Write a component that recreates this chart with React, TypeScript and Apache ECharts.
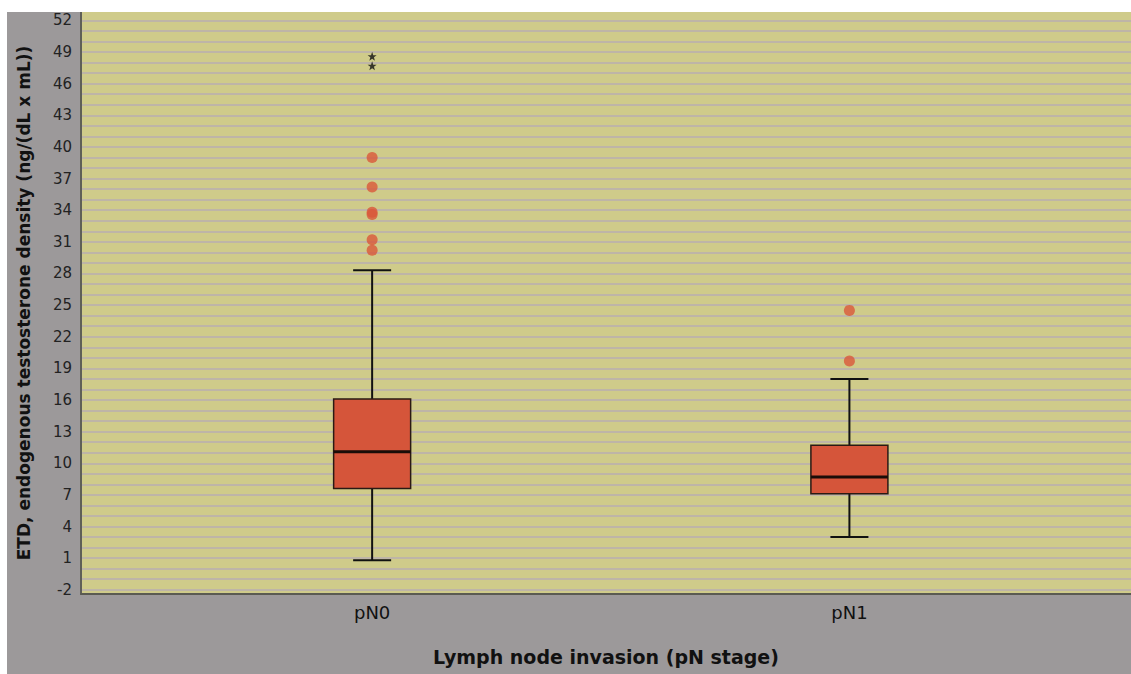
import React, { useEffect, useRef } from "react";
import * as echarts from "echarts";

// Categories along the x axis (placed at positions 1 and 2)
const categories = ["pN0", "pN1"];
const categoryPositions = [1, 2];

// Box statistics per category: [lower whisker, Q1, median, Q3, upper whisker]
const lowerWhisker = [0.8, 3.0];
const q1 = [7.6, 7.1];
const median = [11.1, 8.7];
const q3 = [16.1, 11.7];
const upperWhisker = [28.3, 18.0];

// Mild outliers (circles): [category position, value]
const outlierCategory = [1, 1, 1, 1, 1, 1, 2, 2];
const outlierValues = [39.0, 36.2, 33.8, 33.6, 31.2, 30.2, 24.5, 19.7];

// Extreme outliers (stars)
const extremeCategory = [1, 1];
const extremeValues = [48.6, 47.7];

// Y axis ticks
const yTickLabels = [-2, 1, 4, 7, 10, 13, 16, 19, 22, 25, 28, 31, 34, 37, 40, 43, 46, 49, 52];
const yGridValues = Array.from({ length: 55 }, (_, i) => i - 2); // every unit from -2 to 52

const starPath =
  "path://M50,0 L61.8,35.1 L97.6,34.5 L69.1,56.2 L79.4,90.5 L50,70 L20.6,90.5 L30.9,56.2 L2.4,34.5 L38.2,35.1 Z";

export default function App() {
  const ref = useRef<HTMLDivElement>(null);

  useEffect(() => {
    if (!ref.current) return;
    const chart = echarts.init(ref.current, undefined, { renderer: "svg" });

    const boxData = categoryPositions.map((x, i) => [
      x,
      lowerWhisker[i],
      q1[i],
      median[i],
      q3[i],
      upperWhisker[i],
    ]);
    const outlierData = outlierValues.map((v, i) => [outlierCategory[i], v]);
    const extremeData = extremeValues.map((v, i) => [extremeCategory[i], v]);

    const boxColor = "#d5553a";
    const edge = "#2a1a14";

    chart.setOption({
      animation: false,
      backgroundColor: "#9c999a",
      textStyle: { fontFamily: "DejaVu Sans, Verdana, sans-serif" },
      grid: {
        left: 73,
        top: 0,
        right: 0,
        bottom: 80,
        show: true,
        backgroundColor: "#cfcb8a",
        borderWidth: 0,
      },
      xAxis: {
        type: "value",
        min: 0.39,
        max: 2.59,
        name: "Lymph node invasion (pN stage)",
        nameLocation: "middle",
        nameGap: 53,
        nameTextStyle: { fontSize: 19, fontWeight: "bold", color: "#111" },
        axisLine: { show: true, onZero: false, lineStyle: { color: "#5a5a52", width: 2 } },
        axisTick: { show: false },
        splitLine: { show: false },
        axisLabel: {
          customValues: categoryPositions,
          formatter: (v: number) => categories[Math.round(v) - 1] ?? "",
          fontSize: 18,
          color: "#111",
          margin: 9,
        },
      },
      yAxis: {
        type: "value",
        min: -2.4,
        max: 52.8,
        name: "ETD, endogenous testosterone density (ng/(dL x mL))",
        nameLocation: "middle",
        nameGap: 49,
        nameTextStyle: { fontSize: 17, fontWeight: "bold", color: "#111" },
        axisLine: { show: true, onZero: false, lineStyle: { color: "#5f5f58", width: 2 } },
        axisTick: { show: false, customValues: yGridValues },
        axisLabel: {
          customValues: yTickLabels,
          fontSize: 15,
          color: "#222",
          margin: 9,
        },
        splitLine: { show: true, lineStyle: { color: "#b8aeb0", width: 1.6 } },
      },
      series: [
        {
          type: "custom",
          data: boxData,
          encode: { x: 0, y: [1, 2, 3, 4, 5] },
          renderItem: (params: any, api: any) => {
            const x = api.value(0);
            const pLow = api.coord([x, api.value(1)]);
            const pQ1 = api.coord([x, api.value(2)]);
            const pMed = api.coord([x, api.value(3)]);
            const pQ3 = api.coord([x, api.value(4)]);
            const pHigh = api.coord([x, api.value(5)]);
            const cx = pMed[0];
            const half = 38.5;
            const cap = 19;
            const ls = { stroke: "#111", lineWidth: 2 };
            return {
              type: "group",
              children: [
                { type: "line", shape: { x1: cx, y1: pQ1[1], x2: cx, y2: pLow[1] }, style: ls },
                { type: "line", shape: { x1: cx, y1: pQ3[1], x2: cx, y2: pHigh[1] }, style: ls },
                { type: "line", shape: { x1: cx - cap, y1: pLow[1], x2: cx + cap, y2: pLow[1] }, style: ls },
                { type: "line", shape: { x1: cx - cap, y1: pHigh[1], x2: cx + cap, y2: pHigh[1] }, style: ls },
                {
                  type: "rect",
                  shape: { x: cx - half, y: pQ3[1], width: half * 2, height: pQ1[1] - pQ3[1] },
                  style: { fill: boxColor, stroke: edge, lineWidth: 1.5 },
                },
                {
                  type: "line",
                  shape: { x1: cx - half, y1: pMed[1], x2: cx + half, y2: pMed[1] },
                  style: { stroke: "#1a0d08", lineWidth: 3 },
                },
              ],
            };
          },
        },
        {
          type: "scatter",
          data: outlierData,
          symbol: "circle",
          symbolSize: 11,
          itemStyle: { color: "#d9573a" },
        },
        {
          type: "scatter",
          data: extremeData,
          symbol: starPath,
          symbolSize: 9,
          itemStyle: { color: "#111" },
        },
      ],
    });

    return () => chart.dispose();
  }, []);

  return (
    <div
      style={{
        position: "absolute",
        left: 0,
        top: 0,
        width: 1131,
        height: 674,
        background: "#ffffff",
        overflow: "hidden",
      }}
    >
      <div
        ref={ref}
        style={{ position: "absolute", left: 7, top: 12, width: 1124, height: 662 }}
      />
    </div>
  );
}
